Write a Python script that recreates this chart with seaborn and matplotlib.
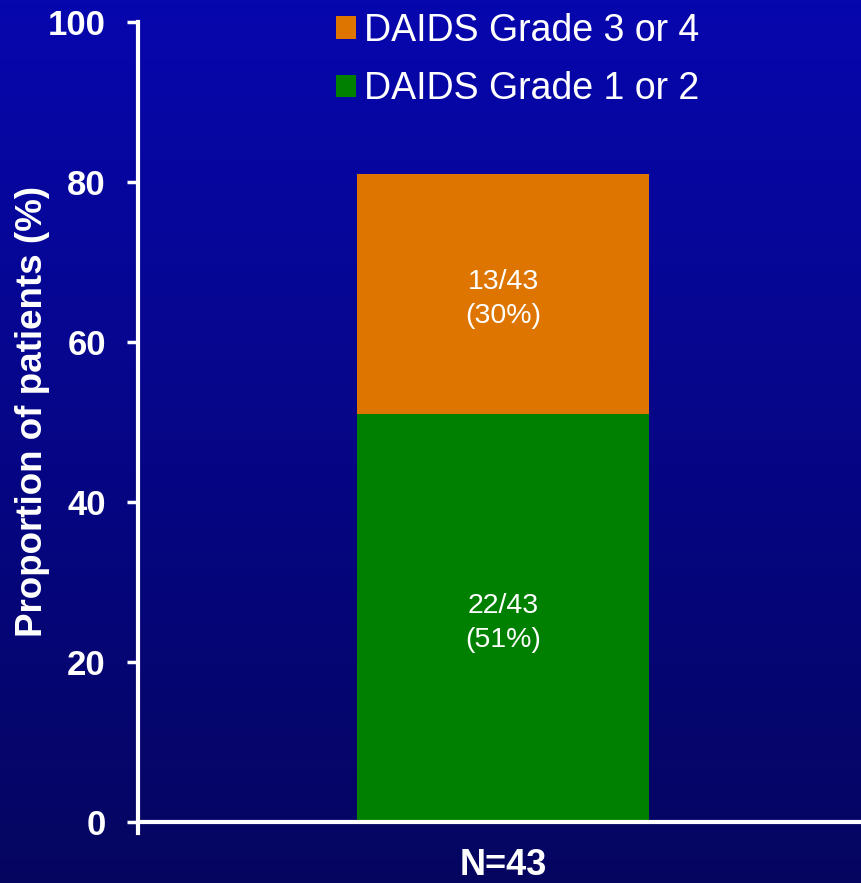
import numpy as np
import pandas as pd
import matplotlib
matplotlib.use("Agg")
import matplotlib.pyplot as plt
from matplotlib.patches import Patch
import seaborn as sns

# Data
groups = ["N=43"]
grade12_pct = [51]
grade34_pct = [30]
grade12_label = ["22/43\n(51%)"]
grade34_label = ["13/43\n(30%)"]
series_names = ["DAIDS Grade 3 or 4", "DAIDS Grade 1 or 2"]
y_ticks = [0, 20, 40, 60, 80, 100]

GREEN = "#008000"
ORANGE = "#DD7500"
TOP_BG = "#0707AE"
BOTTOM_BG = "#050560"

sns.set_theme(style="white")
plt.rcParams["font.family"] = ["Liberation Sans", "DejaVu Sans"]

df = pd.DataFrame({
    "group": groups,
    "g12": grade12_pct,
    "g34": grade34_pct,
})
df["total"] = df["g12"] + df["g34"]

fig = plt.figure(figsize=(8.61, 8.83), dpi=100)

# vertical gradient background
bg = fig.add_axes([0, 0, 1, 1], zorder=-10)
c_top = np.array(matplotlib.colors.to_rgb(TOP_BG))
c_bot = np.array(matplotlib.colors.to_rgb(BOTTOM_BG))
t = np.linspace(0, 1, 256)[:, None]
grad = (c_top[None, :] * (1 - t) + c_bot[None, :] * t)[:, None, :]
bg.imshow(grad, aspect="auto", extent=[0, 1, 0, 1], origin="upper")
bg.set_axis_off()

ax = fig.add_axes([0.160, 0.0566, 0.840, 0.9184])
ax.set_facecolor("none")

sns.barplot(data=df, x="group", y="total", color=ORANGE, saturation=1,
            width=0.8, ax=ax, edgecolor="none", linewidth=0)
sns.barplot(data=df, x="group", y="g12", color=GREEN, saturation=1,
            width=0.8, ax=ax, edgecolor="none", linewidth=0)

# segment labels
for i, row in df.iterrows():
    ax.annotate(grade12_label[i], (i, row["g12"] / 2), xytext=(0, -3.5),
                textcoords="offset points", ha="center", va="center",
                color="white", fontsize=20.5, linespacing=1.38)
    ax.annotate(grade34_label[i], (i, row["g12"] + row["g34"] / 2),
                xytext=(0, -3.5), textcoords="offset points", ha="center",
                va="center", color="white", fontsize=20.5, linespacing=1.38)

ax.set_xlim(-1.0, 0.98)
ax.set_ylim(-1.4, 100)
ax.set_yticks(y_ticks)
ax.set_yticklabels([str(v) for v in y_ticks], fontsize=25, fontweight="bold",
                   color="white")
ax.tick_params(axis="y", direction="out", length=8, width=2.5, color="white",
               pad=15, left=True)
ax.tick_params(axis="x", length=0, pad=19, labelsize=26, labelcolor="white",
               bottom=True, labelbottom=True)
ax.set_xticks(range(len(groups)))
ax.set_xticklabels(groups)

ax.set_xlabel("")
ax.set_ylabel("Proportion of patients (%)", fontsize=26.5, fontweight="bold",
              color="white")
ax.yaxis.label.set_va("center")
ax.yaxis.set_label_coords(-0.146, 0.52)

for side in ["top", "right"]:
    ax.spines[side].set_visible(False)
ax.spines["bottom"].set_position(("data", 0))
for side in ["left", "bottom"]:
    ax.spines[side].set_color("white")
    ax.spines[side].set_linewidth(3)

handles = [Patch(facecolor=ORANGE, edgecolor="none"),
           Patch(facecolor=GREEN, edgecolor="none")]
leg = ax.legend(handles, series_names, loc="upper left",
                bbox_to_anchor=(0.253, 1.030), frameon=False, fontsize=27,
                handlelength=0.55, handleheight=0.55, handletextpad=0.2,
                labelspacing=0.6, borderaxespad=0)
for txt in leg.get_texts():
    txt.set_color("white")

# tick objects are rebuilt on the first draw; make the group label bold after it
fig.canvas.draw()
for tick in ax.xaxis.get_major_ticks():
    tick.label1.set_fontweight("bold")

fig.savefig("out.png", dpi=100)
